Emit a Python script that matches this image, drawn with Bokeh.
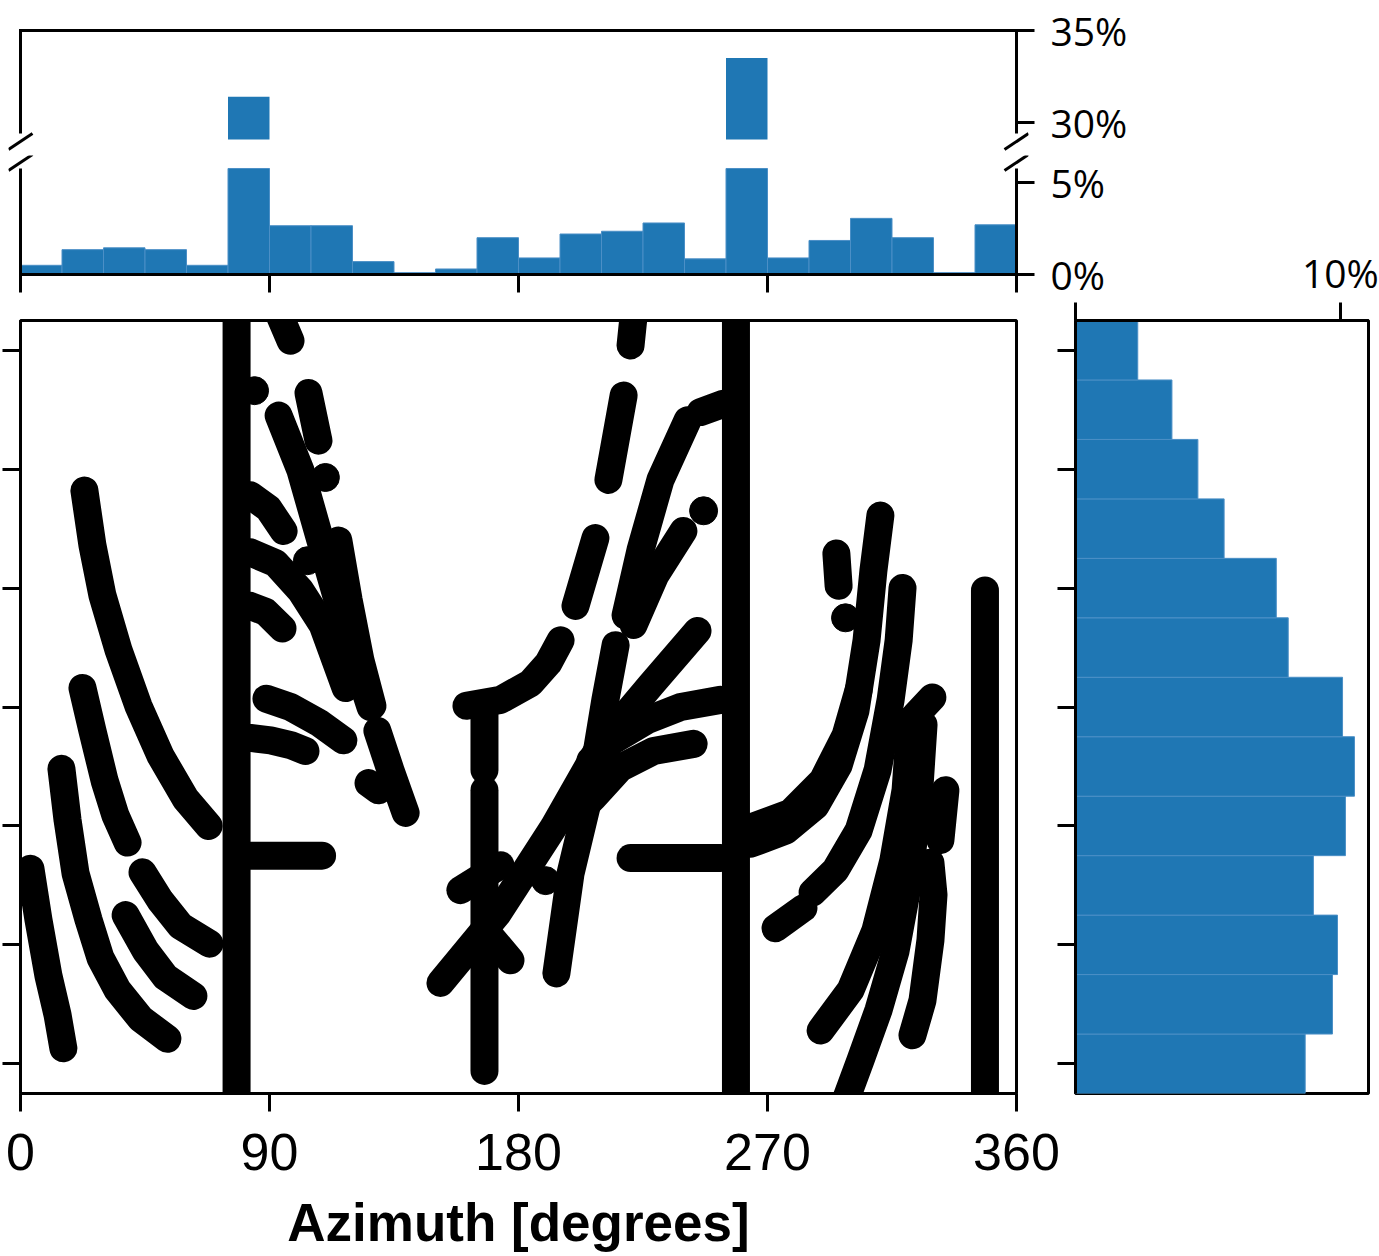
from bokeh.plotting import figure
from bokeh.models import Range1d, FixedTicker
from bokeh.layouts import column, row
from bokeh.embed import file_html
from bokeh.resources import INLINE

# ---------------- data ----------------
az_ticks = [0, 90, 180, 270, 360]
el_ticks = [2.5, 12.5, 22.5, 32.5, 42.5, 52.5, 62.5]

# azimuth histogram, 15 degree bins (percent)
az_bin_left = list(range(0, 360, 15))
az_hist_pct = [0.5, 1.35, 1.45, 1.35, 0.5, 31.4, 2.65, 2.65, 0.7, 0.1, 0.3, 2.0,
               0.9, 2.2, 2.35, 2.8, 0.85, 33.5, 0.9, 1.85, 3.05, 2.0, 0.1, 2.7]

# elevation histogram, 5 unit bins from bottom (0) to top (65), percent
el_bin_low = list(range(0, 65, 5))
el_hist_pct = [8.67, 9.70, 9.89, 8.98, 10.19, 10.53, 10.08, 8.03, 7.58, 5.61, 4.62, 3.64, 2.35]

# broken percent axis of the azimuth histogram
upper_ticks = [30, 35]
lower_ticks = [0, 5]
UP_LO, UP_HI = 29.08, 35.0      # visible part above the break
LO_LO, LO_HI = 0.0, 5.76        # visible part below the break
right_ticks = [0, 10]
PCT_RIGHT_MAX = 11.06
EL_HI = 65.0

# vertical tracks: azimuth, elevation start, elevation end
vert_az = [78.1, 258.6, 348.6, 167.7, 167.7]
vert_el0 = [-2.0, -2.0, -2.0, 27.2, 1.9]
vert_el1 = [67.0, 67.0, 42.3, 32.6, 25.5]

west_az = [
    [23.1, 26.0, 29.6, 35.4, 42.6, 50.6, 59.6, 68.0],
    [22.4, 26.0, 30.4, 34.3, 38.7],
    [14.8, 17.0, 19.9, 24.6, 28.9, 35.1, 43.4, 53.1],
    [44.1, 50.6, 57.8, 68.3],
    [38.0, 45.2, 52.4, 62.5],
    [3.6, 6.5, 10.1, 13.4, 15.5],
]
west_el = [
    [50.7, 46.1, 41.9, 37.3, 32.6, 28.4, 24.8, 22.5],
    [34.1, 30.5, 26.3, 23.4, 21.1],
    [27.3, 23.0, 18.5, 14.6, 11.4, 8.7, 6.3, 4.6],
    [18.6, 16.2, 14.1, 12.6],
    [15.0, 12.0, 9.8, 8.2],
    [18.9, 14.6, 9.9, 6.6, 3.8],
]

midwest_az = [
    [93.0, 97.6],
    [93.3, 101.2, 108.4, 115.7, 121.1, 126.5],
    [114.9, 118.6, 122.9, 127.2],
    [104.1, 107.7],
    [83.1, 89.6, 95.1],
    [83.1, 92.2, 101.2, 109.2, 117.5],
    [83.1, 88.6, 94.7],
    [88.9, 97.6, 107.7, 116.7],
    [83.1, 90.4, 97.6, 103.0],
    [129.0, 133.7, 139.2],
    [125.8, 129.4],
    [83.1, 109.0],
]
midwest_el = [
    [65.8, 63.3],
    [57.0, 52.4, 46.5, 40.6, 36.4, 32.5],
    [46.5, 41.5, 36.4, 32.6],
    [58.9, 54.9],
    [50.3, 49.2, 47.3],
    [45.5, 44.6, 42.3, 39.4, 34.1],
    [41.0, 40.5, 39.1],
    [33.2, 32.5, 31.2, 29.7],
    [29.9, 29.7, 29.3, 28.8],
    [30.5, 27.2, 23.6],
    [26.1, 25.5],
    [20.0, 20.0],
]

central_az = [
    [221.6, 220.5],
    [218.0, 212.5],
    [207.8, 200.6],
    [195.2, 190.8, 184.3, 173.5, 161.2],
    [151.8, 172.4, 192.7, 209.6, 227.7, 244.7],
    [193.7, 198.8, 206.0, 211.4, 215.1],
    [218.7, 224.1, 231.3, 241.1],
    [221.6, 229.5, 239.6],
    [245.8, 254.1],
    [253.0, 238.6, 226.6, 214.3, 206.0],
    [243.3, 228.8, 216.9, 207.1, 200.6],
    [159.0, 173.5],
    [168.8, 177.1],
    [220.5, 253.0],
]
central_el = [
    [65.4, 62.9],
    [58.7, 51.6],
    [46.7, 41.0],
    [38.1, 36.2, 34.5, 33.1, 32.6],
    [9.3, 15.1, 22.4, 29.3, 34.3, 38.9],
    [10.1, 18.5, 25.5, 33.1, 37.7],
    [40.2, 45.7, 51.6, 56.6],
    [39.4, 43.6, 47.3],
    [57.3, 58.0],
    [33.1, 32.5, 31.4, 29.7, 28.0],
    [29.4, 28.8, 27.4, 24.9, 23.4],
    [17.1, 19.2],
    [13.5, 11.2],
    [19.8, 19.8],
]

east_az = [
    [263.9, 276.5, 287.4, 295.7, 301.8, 305.8, 308.3, 310.8],
    [263.1, 278.3, 289.9, 298.2, 302.9],
    [294.9, 295.7],
    [318.8, 317.4, 314.5, 309.8, 302.9, 294.6, 286.3],
    [272.9, 283.0],
    [329.6, 323.5],
    [321.7, 319.9, 315.5, 309.0, 300.0, 289.2],
    [326.4, 324.6, 321.0, 316.3, 310.1, 303.6, 298.2],
    [334.3, 332.5],
    [328.9, 330.0, 328.9, 326.0, 322.4],
]
east_el = [
    [21.0, 22.1, 24.2, 27.6, 32.2, 38.1, 44.0, 48.6],
    [22.3, 23.6, 26.3, 30.1, 33.9],
    [45.4, 42.7],
    [42.5, 38.1, 33.1, 27.2, 22.1, 18.8, 16.9],
    [13.9, 15.6],
    [33.3, 31.8],
    [31.4, 25.5, 19.6, 13.7, 8.7, 5.3],
    [31.0, 24.6, 17.9, 12.0, 7.0, 2.8, -0.6],
    [25.5, 21.3],
    [19.4, 16.7, 12.9, 7.8, 4.9],
]

dot_az = [84.6, 110.2, 103.7, 246.9, 189.8, 298.2]
dot_el = [59.1, 51.8, 44.8, 49.0, 17.9, 40.0]

# ---------------- styling ----------------
BLUE = "#1f77b4"
EDGE = "#4b8fc6"
AXW = 3
PCT_FONT = "Open Sans"
PCT_SIZE = "39px"
NUM_FONT = "Liberation Sans"
MARK_W = 28

FRAME_W = 996
PX_PER_DEG = FRAME_W / 360.0
PX_PER_PCT = 18.41
PAD_PX = 12                       # room in the top panels for the break marks
PAD_DEG = PAD_PX / PX_PER_DEG


def style_axis(ax, ticks, tick_out=18, tick_in=0, labels=None, font=PCT_FONT,
               size=PCT_SIZE, standoff=0, line=True):
    ax.axis_line_color = "black" if line else None
    ax.axis_line_width = AXW
    ax.major_tick_line_color = "black"
    ax.major_tick_line_width = AXW
    ax.minor_tick_line_color = None
    ax.major_tick_in = tick_in
    ax.major_tick_out = tick_out
    ax.ticker = FixedTicker(ticks=ticks, minor_ticks=[])
    if labels is None:
        ax.major_label_text_color = None
        ax.major_label_text_font_size = "1px"
        ax.major_label_standoff = 0
    else:
        ax.major_label_overrides = labels
        ax.major_label_text_font = font
        ax.major_label_text_font_size = size
        ax.major_label_text_color = "black"
        ax.major_label_standoff = standoff


def base(**kw):
    p = figure(toolbar_location=None, output_backend="svg", title=None, **kw)
    p.xgrid.visible = False
    p.ygrid.visible = False
    return p


centers = [b + 7.5 for b in az_bin_left]
top_xr = Range1d(-PAD_DEG, 360 + PAD_DEG)
mark_dy = 8 / PX_PER_PCT

# ---------------- top histogram, upper (broken) part ----------------
up_top = UP_HI + 4 / PX_PER_PCT
up_bot = UP_LO - 13 / PX_PER_PCT
upper = base(x_range=top_xr, y_range=Range1d(up_bot, up_top),
             frame_width=FRAME_W + 2 * PAD_PX,
             frame_height=int(round((up_top - up_bot) * PX_PER_PCT)),
             min_border_left=20, min_border_top=26, min_border_bottom=0,
             min_border_right=130 - 2 * PAD_PX,
             x_axis_location=None, y_axis_location="right",
             margin=(0, 0, 0, -PAD_PX))
upper.outline_line_color = None
style_axis(upper.yaxis[0], upper_ticks, tick_out=6, tick_in=PAD_PX,
           labels={t: f"{t}%" for t in upper_ticks}, standoff=16, line=False)
upper.vbar(x=centers, width=15, bottom=UP_LO, top=[max(v, UP_LO) for v in az_hist_pct],
           fill_color=BLUE, line_color=None)
up_gap = UP_LO + 6 / PX_PER_PCT
upper.line(x=[0, 0, 360, 360], y=[up_gap, UP_HI, UP_HI, up_gap],
           line_color="black", line_width=AXW, line_join="miter")
up_mark = UP_LO - 2 / PX_PER_PCT
upper.segment(x0=[-PAD_DEG, 360 - PAD_DEG], y0=[up_mark - mark_dy] * 2,
              x1=[PAD_DEG, 360 + PAD_DEG], y1=[up_mark + mark_dy] * 2,
              line_color="black", line_width=AXW)

# ---------------- top histogram, lower part ----------------
lo_top = LO_HI + 13 / PX_PER_PCT
lo_bot = LO_LO - 2 / PX_PER_PCT
lower = base(x_range=top_xr, y_range=Range1d(lo_bot, lo_top),
             frame_width=FRAME_W + 2 * PAD_PX,
             frame_height=int(round((lo_top - lo_bot) * PX_PER_PCT)),
             min_border_left=20, min_border_top=3, min_border_bottom=28,
             min_border_right=130 - 2 * PAD_PX,
             x_axis_location="below", y_axis_location="right",
             margin=(0, 0, 0, -PAD_PX))
lower.outline_line_color = None
style_axis(lower.xaxis[0], az_ticks, tick_out=16, tick_in=2, line=False)
style_axis(lower.yaxis[0], lower_ticks, tick_out=6, tick_in=PAD_PX,
           labels={t: f"{t}%" for t in lower_ticks}, standoff=16, line=False)
lower.vbar(x=centers, width=15, bottom=LO_LO, top=[min(v, LO_HI) for v in az_hist_pct],
           fill_color=BLUE, line_color=EDGE, line_width=1)
lower.line(x=[0, 0, 360, 360], y=[LO_HI, LO_LO, LO_LO, LO_HI],
           line_color="black", line_width=AXW, line_join="miter")
lo_mark = LO_HI + 6 / PX_PER_PCT
lower.segment(x0=[-PAD_DEG, 360 - PAD_DEG], y0=[lo_mark - mark_dy] * 2,
              x1=[PAD_DEG, 360 + PAD_DEG], y1=[lo_mark + mark_dy] * 2,
              line_color="black", line_width=AXW)

# ---------------- main scatter ----------------
main = base(x_range=Range1d(0, 360), y_range=Range1d(0, EL_HI),
            frame_width=FRAME_W, frame_height=773,
            min_border_left=20, min_border_top=16, min_border_right=130,
            x_axis_location="below", y_axis_location="left")
main.outline_line_color = "black"
main.outline_line_width = AXW
style_axis(main.xaxis[0], az_ticks, tick_out=18, labels={t: str(t) for t in az_ticks},
           font=NUM_FONT, size="52px", standoff=22)
main.xaxis[0].axis_label = "Azimuth [degrees]"
main.xaxis[0].axis_label_text_font = NUM_FONT
main.xaxis[0].axis_label_text_font_size = "53px"
main.xaxis[0].axis_label_text_font_style = "bold"
main.xaxis[0].axis_label_text_color = "black"
main.xaxis[0].axis_label_standoff = 20
style_axis(main.yaxis[0], el_ticks, tick_out=18)

track_xs = [[a, a] for a in vert_az] + west_az + midwest_az + central_az + east_az
track_ys = ([[e0, e1] for e0, e1 in zip(vert_el0, vert_el1)]
            + west_el + midwest_el + central_el + east_el)
main.multi_line(xs=track_xs, ys=track_ys, line_color="black", line_width=MARK_W,
                line_cap="round", line_join="round")
main.scatter(x=dot_az, y=dot_el, marker="circle", size=MARK_W, color="black")

# ---------------- right histogram ----------------
right = base(x_range=Range1d(0, PCT_RIGHT_MAX), y_range=main.y_range,
             frame_width=293, frame_height=773,
             min_border_left=40, min_border_top=320, min_border_right=11, min_border_bottom=10,
             x_axis_location="above", y_axis_location="left",
             margin=(0, 0, 0, -111))
right.outline_line_color = "black"
right.outline_line_width = AXW
right.border_fill_alpha = 0
style_axis(right.xaxis[0], right_ticks, tick_out=18,
           labels={0: "", 10: "10%"}, standoff=4)
style_axis(right.yaxis[0], el_ticks, tick_out=18)
right.hbar(y=[b + 2.5 for b in el_bin_low], height=5, left=0, right=el_hist_pct,
           fill_color=BLUE, line_color=EDGE, line_width=1)

layout = row(column(upper, lower, main), right)

open("out.html", "w").write(file_html(layout, INLINE))
